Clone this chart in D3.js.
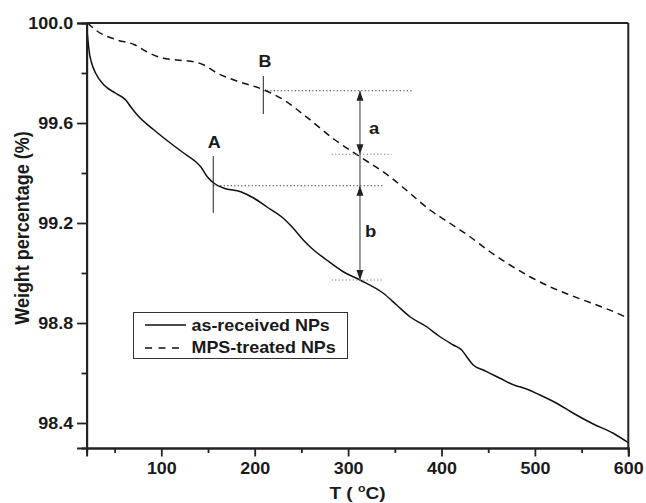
<!DOCTYPE html>
<html>
<head>
<meta charset="utf-8">
<script src="https://cdn.jsdelivr.net/npm/d3@7/dist/d3.min.js"></script>
<style>
  html, body { margin: 0; padding: 0; background: #fff; }
  svg { display: block; }
  text { font-family: "Liberation Sans", Arial, sans-serif; font-weight: bold; fill: #1a1a1a; }
</style>
</head>
<body>
<svg id="chart" width="646" height="503"></svg>
<script>
// ---------- data ----------
const asReceivedT = [20, 20.5, 21.5, 23, 25, 29.7, 38.6, 51.1, 61.9, 67.2, 74.3, 92.2, 110, 124.3, 136.8, 142.2, 149.2, 156.4, 167.1, 185, 199.2, 212.8, 230.6, 241.3, 252, 261, 277, 294.8, 312.7, 337.7, 352, 366.2, 384.1, 398.4, 412.6, 421.6, 427, 434, 444.7, 462.6, 480.5, 484, 505.4, 523.3, 541.1, 562.5, 583.9, 600];
const asReceivedW = [100.0, 99.97, 99.93, 99.88, 99.845, 99.799, 99.752, 99.719, 99.692, 99.665, 99.632, 99.572, 99.519, 99.479, 99.445, 99.425, 99.385, 99.359, 99.339, 99.325, 99.299, 99.265, 99.219, 99.179, 99.132, 99.099, 99.052, 99.005, 98.972, 98.919, 98.872, 98.825, 98.785, 98.745, 98.712, 98.692, 98.665, 98.632, 98.612, 98.579, 98.548, 98.545, 98.512, 98.479, 98.439, 98.396, 98.359, 98.321];

const mpsT = [21, 30.8, 52.9, 70.7, 84.3, 102.1, 117.1, 135, 145.7, 160, 177.8, 210, 231.3, 252.8, 286, 312.7, 344.8, 366.2, 387.7, 409, 430.5, 451.9, 473.3, 494.7, 516.1, 537.5, 566.1, 596.4, 600];
const mpsW = [100.0, 99.969, 99.932, 99.914, 99.885, 99.859, 99.852, 99.845, 99.832, 99.799, 99.772, 99.732, 99.692, 99.632, 99.532, 99.465, 99.385, 99.319, 99.252, 99.199, 99.145, 99.085, 99.032, 98.985, 98.945, 98.912, 98.872, 98.825, 98.818];

const seriesNames = ["as-received NPs", "MPS-treated NPs"];

const xTicksMajor = [100, 200, 300, 400, 500, 600];
const xTicksMinor = [50, 150, 250, 350, 450, 550];
const yTicksMajor = [98.4, 98.8, 99.2, 99.6, 100.0];
const yTicksMinor = [98.6, 99.0, 99.4, 99.8];

// annotation values (data units)
const markerA = { t: 155.6, w1: 99.468, w2: 99.241, label: "A", lt: 156.7, lw: 99.5 };
const markerB = { t: 209.2, w1: 99.788, w2: 99.636, label: "B", lt: 211, lw: 99.824 };
const dottedLevels = [
  { w: 99.729, t1: 209.2, t2: 368 },
  { w: 99.475, t1: 282.4, t2: 346.7 },
  { w: 99.349, t1: 155.6, t2: 338.4 },
  { w: 98.972, t1: 282.4, t2: 336 }
];
const arrowT = 312.7;
const arrowSpans = [
  { top: 99.729, bottom: 99.475, label: "a", lt: 322.4, lw: 99.555 },
  { top: 99.349, bottom: 98.972, label: "b", lt: 318.1, lw: 99.145 }
];

// ---------- layout ----------
const svg = d3.select("#chart");
const x = d3.scaleLinear().domain([20, 600]).range([86.6, 628.3]);
const y = d3.scaleLinear().domain([98.3, 100.0]).range([448, 23]);
const SX = 1.12; // horizontal stretch of text

function stretch(sel, s) {
  sel.each(function () {
    const t = d3.select(this);
    const tx = +t.attr("x") || 0, ty = +t.attr("y") || 0;
    t.attr("x", 0).attr("y", 0).attr("transform", `translate(${tx},${ty}) scale(${s},1)`);
  });
}

// ---------- curves ----------
const line = d3.line().x(d => x(d[0])).y(d => y(d[1])).curve(d3.curveMonotoneX);
const solidData = asReceivedT.map((t, i) => [t, asReceivedW[i]]);
const dashData = mpsT.map((t, i) => [t, mpsW[i]]);

svg.append("path").datum(solidData).attr("d", line)
  .attr("fill", "none").attr("stroke", "#111").attr("stroke-width", 1.5);
svg.append("path").datum(dashData).attr("d", line)
  .attr("fill", "none").attr("stroke", "#111").attr("stroke-width", 1.5)
  .attr("stroke-dasharray", "7,5");

// ---------- annotations ----------
const ann = svg.append("g");
dottedLevels.forEach((d, i) => {
  ann.append("line").attr("x1", x(d.t1)).attr("x2", x(d.t2)).attr("y1", y(d.w)).attr("y2", y(d.w))
    .attr("stroke", (i === 1 || i === 3) ? "#777" : "#333").attr("stroke-width", 1)
    .attr("stroke-dasharray", "1.2,2.3");
});
[markerA, markerB].forEach(m => {
  ann.append("line").attr("x1", x(m.t)).attr("x2", x(m.t)).attr("y1", y(m.w1)).attr("y2", y(m.w2))
    .attr("stroke", "#222").attr("stroke-width", 1);
  ann.append("text").attr("text-anchor", "middle").attr("font-size", 16)
    .attr("x", x(m.lt)).attr("y", y(m.lw)).text(m.label).call(stretch, SX);
});
const ax = x(arrowT);
ann.append("line").attr("x1", ax).attr("x2", ax)
  .attr("y1", y(arrowSpans[0].top)).attr("y2", y(arrowSpans[1].bottom))
  .attr("stroke", "#777").attr("stroke-width", 1.5);
function head(tipY, dir) { // dir=-1 up, +1 down
  const L = 10, H = 3.5;
  return `M${ax},${tipY} L${ax - H},${tipY - dir * L} L${ax + H},${tipY - dir * L} Z`;
}
arrowSpans.forEach(s => {
  ann.append("path").attr("d", head(y(s.top), -1)).attr("fill", "#222");
  ann.append("path").attr("d", head(y(s.bottom), 1)).attr("fill", "#222");
  ann.append("text").attr("font-size", 16.5).attr("x", x(s.lt)).attr("y", y(s.lw))
    .text(s.label).call(stretch, SX);
});

// ---------- legend ----------
const lg = svg.append("g");
lg.append("rect").attr("x", 133.5).attr("y", 312.5).attr("width", 214).attr("height", 46)
  .attr("fill", "#fff").attr("stroke", "#333").attr("stroke-width", 1);
lg.append("line").attr("x1", 145).attr("x2", 186).attr("y1", 325).attr("y2", 325)
  .attr("stroke", "#111").attr("stroke-width", 1.5);
lg.append("line").attr("x1", 145).attr("x2", 180).attr("y1", 348).attr("y2", 348)
  .attr("stroke", "#111").attr("stroke-width", 1.5).attr("stroke-dasharray", "7,6.5");
lg.append("text").attr("font-size", 16).attr("x", 191.5).attr("y", 330.7).text(seriesNames[0]).call(stretch, SX);
lg.append("text").attr("font-size", 16).attr("x", 191.5).attr("y", 353.2).text(seriesNames[1]).call(stretch, SX);

// ---------- axes ----------
const axisColor = "#222";
function styleAxis(g) {
  g.select(".domain").attr("stroke", axisColor).attr("stroke-width", 2);
  g.selectAll(".tick line").attr("stroke", axisColor).attr("stroke-width", 1.8);
  g.selectAll("text").attr("font-size", 16).attr("font-family", "Liberation Sans, Arial, sans-serif")
    .attr("font-weight", "bold").attr("fill", "#1a1a1a");
}
const gxMinor = svg.append("g").attr("transform", `translate(0,${y(98.3)})`)
  .call(d3.axisBottom(x).tickValues(xTicksMinor).tickSize(5).tickFormat(""));
gxMinor.call(styleAxis);
const gx = svg.append("g").attr("transform", `translate(0,${y(98.3)})`)
  .call(d3.axisBottom(x).tickValues(xTicksMajor).tickSize(8.5).tickPadding(6.5).tickFormat(d3.format("d")));
gx.call(styleAxis);
gx.selectAll(".tick text").call(stretch, SX);

const gyMinor = svg.append("g").attr("transform", `translate(${x(20)},0)`)
  .call(d3.axisLeft(y).tickValues(yTicksMinor).tickSize(5).tickFormat(""));
gyMinor.call(styleAxis);
const gy = svg.append("g").attr("transform", `translate(${x(20)},0)`)
  .call(d3.axisLeft(y).tickValues(yTicksMajor).tickSize(9.5).tickPadding(4).tickFormat(d3.format(".1f")));
gy.call(styleAxis);
gy.selectAll(".tick text").call(stretch, SX);

// top and right frame
svg.append("line").attr("x1", x(20)).attr("x2", x(600)).attr("y1", y(100)).attr("y2", y(100))
  .attr("stroke", axisColor).attr("stroke-width", 2);
svg.append("line").attr("x1", x(600)).attr("x2", x(600)).attr("y1", y(100)).attr("y2", y(98.3))
  .attr("stroke", axisColor).attr("stroke-width", 2);

// axis titles
const xt = svg.append("text").attr("font-size", 17).attr("text-anchor", "middle")
  .attr("transform", `translate(357.5,499) scale(${SX},1)`);
xt.append("tspan").text("T ( ");
xt.append("tspan").attr("font-size", 11).attr("dy", -7).text("o");
xt.append("tspan").attr("dy", 7).text("C)");

svg.append("text").attr("font-size", 18).attr("text-anchor", "middle")
  .attr("transform", "translate(29,228) rotate(-90) scale(1,1.1)")
  .text("Weight percentage (%)");
</script>
</body>
</html>
